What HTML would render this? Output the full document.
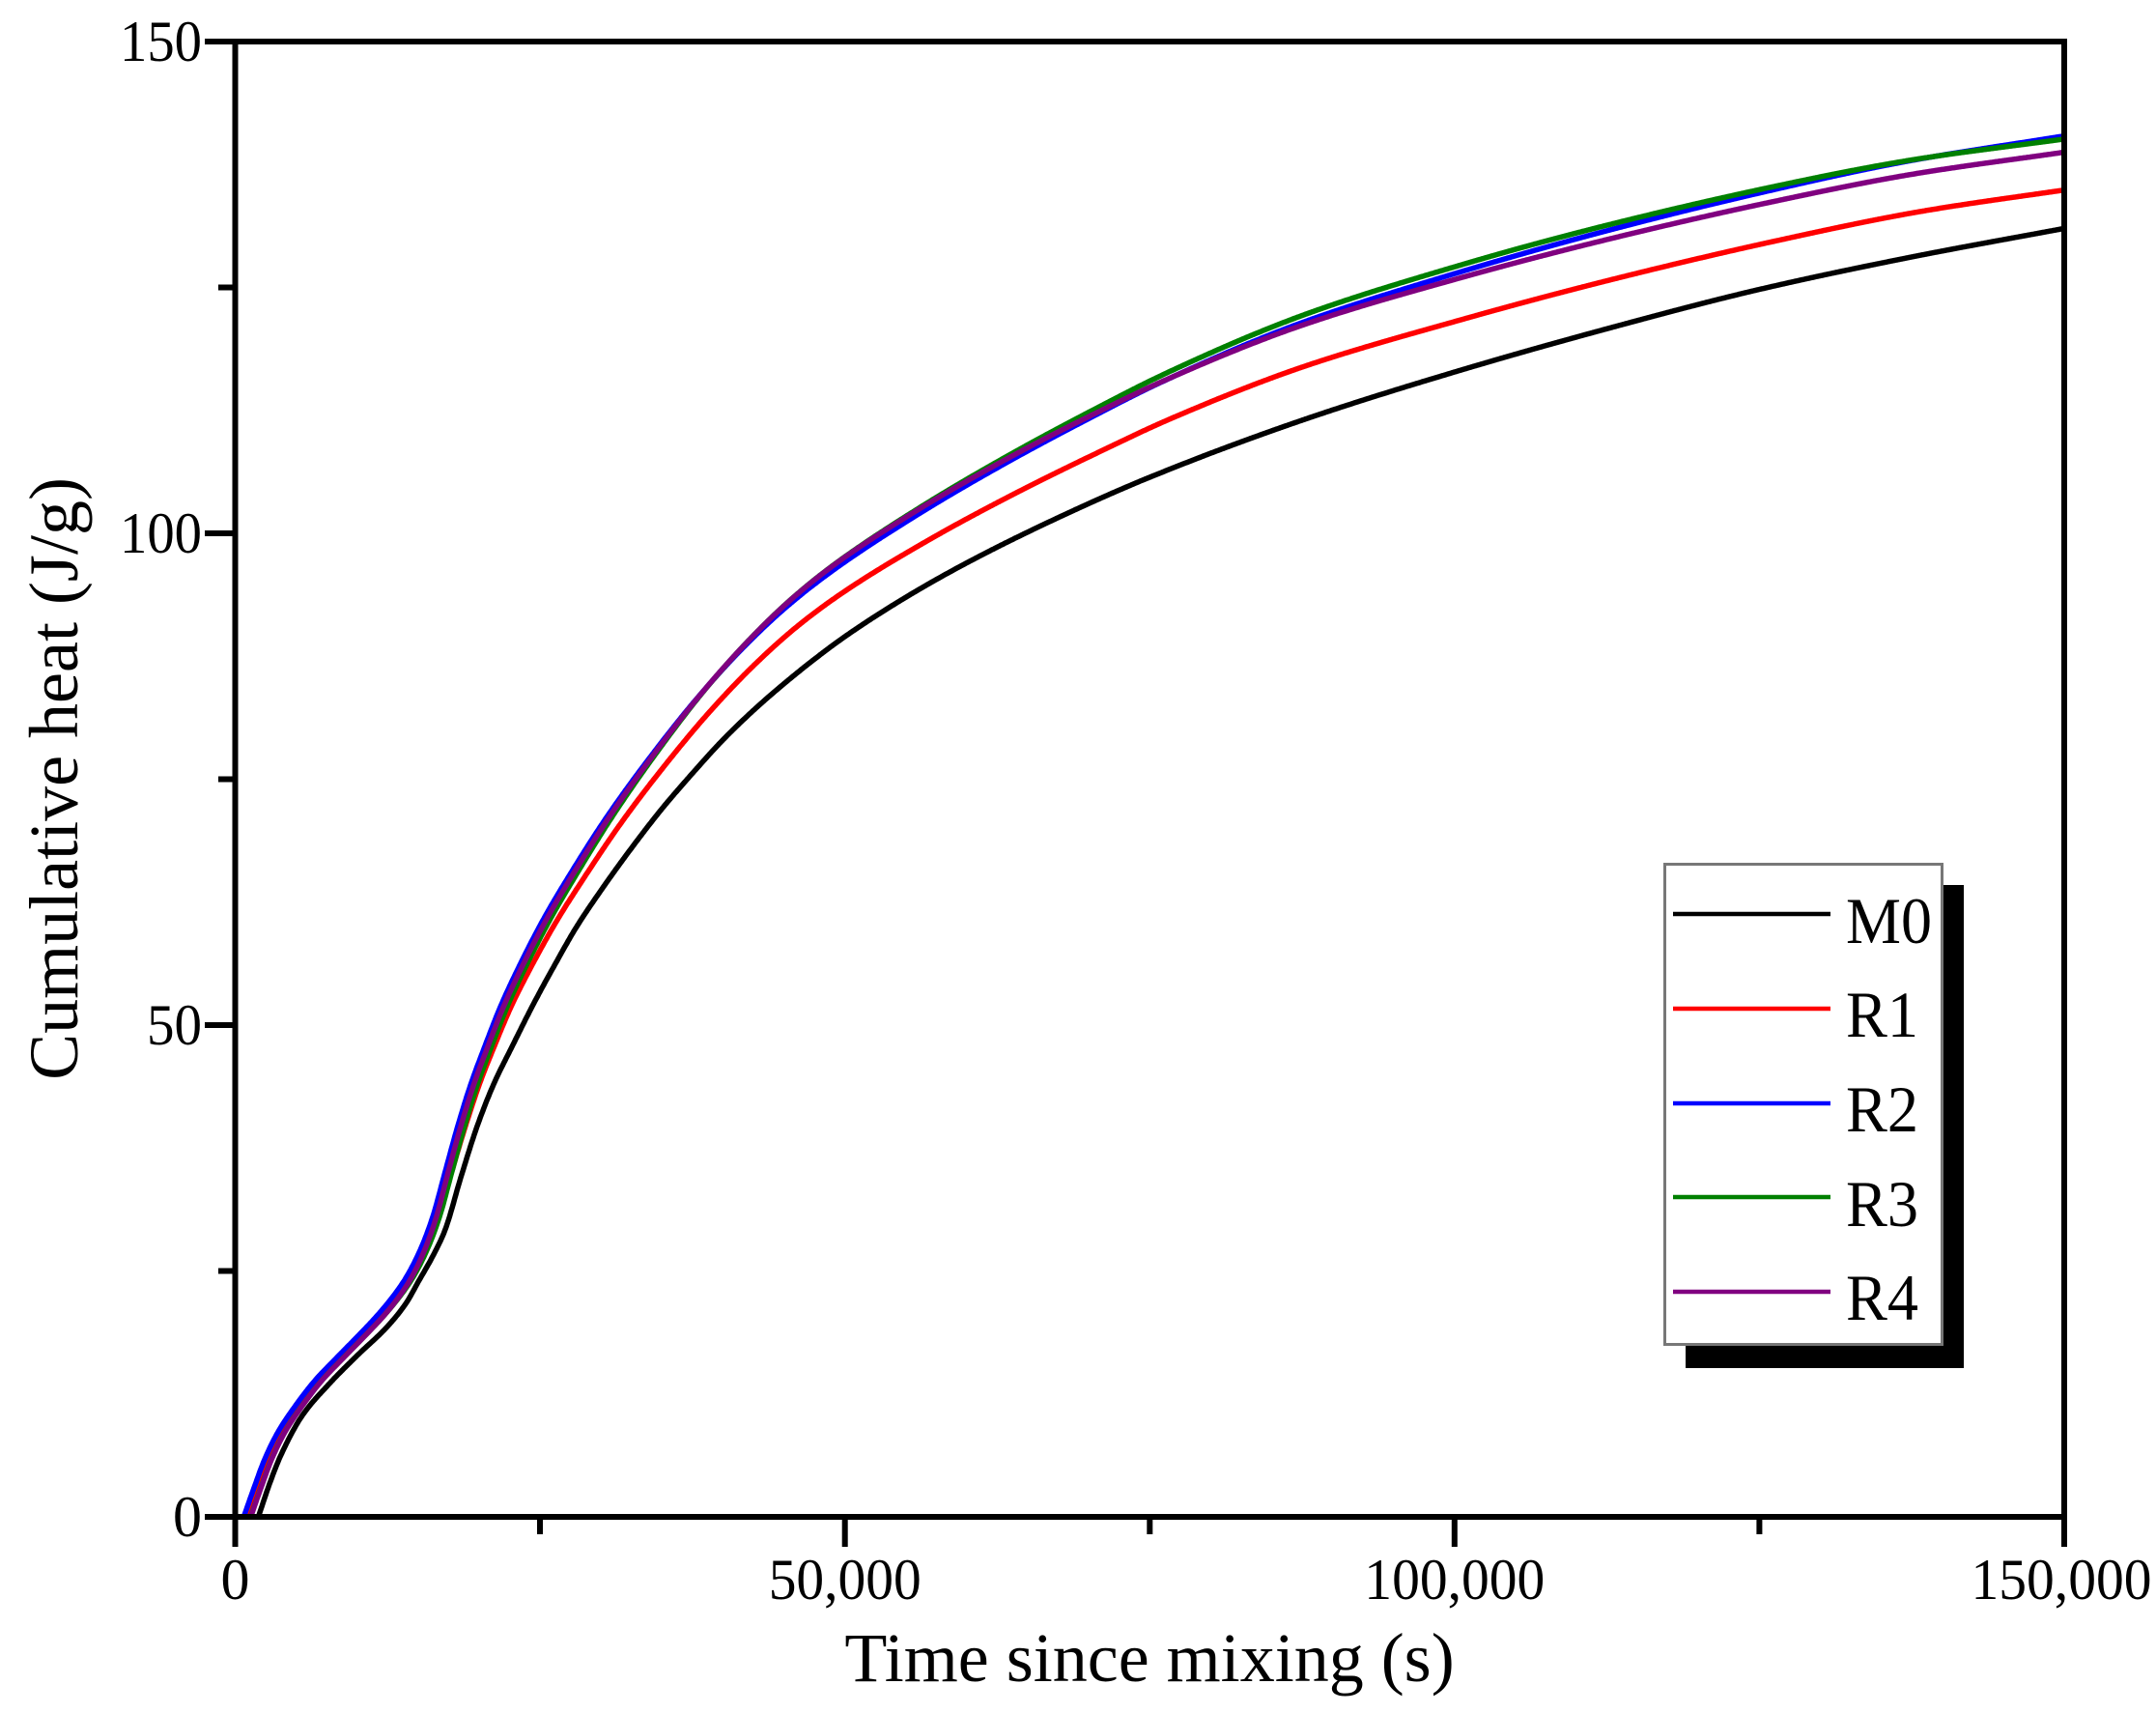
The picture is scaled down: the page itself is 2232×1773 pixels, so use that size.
<!DOCTYPE html>
<html><head><meta charset="utf-8">
<style>
html,body{margin:0;padding:0;background:#fff;}
svg{display:block;}
text{font-family:"Liberation Serif","Times New Roman",serif;fill:#000;}
</style></head>
<body>
<svg id="c" width="2232" height="1773" viewBox="0 0 2232 1773" xmlns="http://www.w3.org/2000/svg">
<rect width="2232" height="1773" fill="#fff"/>
<g id="curves" fill="none" stroke-width="5.5" stroke-linejoin="round" stroke-linecap="round"></g>
<g stroke="#000" stroke-width="6" fill="none" stroke-linecap="butt">
<rect x="243.5" y="43" width="1893.5" height="1527"/>
<path d="M212 43H243.5M212 552H243.5M212 1061H243.5M212 1570H243.5"/>
<path d="M226 297.5H243.5M226 806.5H243.5M226 1315.5H243.5"/>
<path d="M243.5 1570V1601M874.7 1570V1601M1505.8 1570V1601M2137 1570V1601"/>
<path d="M559 1570V1588M1190.3 1570V1588M1821.4 1570V1588"/>
</g>
<g font-size="60" text-anchor="end">
<text x="209" y="63" textLength="85" lengthAdjust="spacingAndGlyphs">150</text>
<text x="209" y="572" textLength="85" lengthAdjust="spacingAndGlyphs">100</text>
<text x="209" y="1081" textLength="57" lengthAdjust="spacingAndGlyphs">50</text>
<text x="209" y="1590">0</text>
</g>
<g font-size="60" text-anchor="middle">
<text x="243.5" y="1655">0</text>
<text x="874.7" y="1655" textLength="158" lengthAdjust="spacingAndGlyphs">50,000</text>
<text x="1505.8" y="1655" textLength="187" lengthAdjust="spacingAndGlyphs">100,000</text>
<text x="2134" y="1655" textLength="187" lengthAdjust="spacingAndGlyphs">150,000</text>
</g>
<text x="1190" y="1740" font-size="72" text-anchor="middle">Time since mixing (s)</text>
<text transform="translate(80,806) rotate(-90)" font-size="72" text-anchor="middle">Cumulative heat (J/g)</text>
<!-- legend -->
<rect x="1745" y="916" width="288" height="500" fill="#000"/>
<rect x="1723.5" y="894.5" width="287" height="497" fill="#fff" stroke="#777" stroke-width="3"/>
<g stroke-width="4.5">
<line x1="1732" y1="946" x2="1895" y2="946" stroke="#000"/>
<line x1="1732" y1="1044" x2="1895" y2="1044" stroke="#ff0000"/>
<line x1="1732" y1="1142" x2="1895" y2="1142" stroke="#0000ff"/>
<line x1="1732" y1="1239" x2="1895" y2="1239" stroke="#008000"/>
<line x1="1732" y1="1337" x2="1895" y2="1337" stroke="#800080"/>
</g>
<g font-size="68">
<text x="1911" y="976" textLength="89" lengthAdjust="spacingAndGlyphs">M0</text>
<text x="1911" y="1073" textLength="75" lengthAdjust="spacingAndGlyphs">R1</text>
<text x="1911" y="1171" textLength="75" lengthAdjust="spacingAndGlyphs">R2</text>
<text x="1911" y="1269" textLength="75" lengthAdjust="spacingAndGlyphs">R3</text>
<text x="1911" y="1366" textLength="75" lengthAdjust="spacingAndGlyphs">R4</text>
</g>
</svg>
<script>
function pchip(pts){
  var xs=pts.map(function(p){return p[0];}), ys=pts.map(function(p){return p[1];});
  var n=xs.length, h=[], d=[], m=new Array(n), i;
  for(i=0;i<n-1;i++){h[i]=xs[i+1]-xs[i]; d[i]=(ys[i+1]-ys[i])/h[i];}
  m[0]=d[0]; m[n-1]=d[n-2];
  for(i=1;i<n-1;i++){
    if(d[i-1]*d[i]<=0) m[i]=0;
    else { var w1=2*h[i]+h[i-1], w2=h[i]+2*h[i-1]; m[i]=(w1+w2)/(w1/d[i-1]+w2/d[i]); }
  }
  return function(x){
    if(x<=xs[0]) return ys[0]+(x-xs[0])*m[0];
    if(x>=xs[n-1]) return ys[n-1]+(x-xs[n-1])*m[n-1];
    var k=0; while(x>xs[k+1]) k++;
    var t=(x-xs[k])/h[k], t2=t*t, t3=t2*t;
    return (2*t3-3*t2+1)*ys[k]+(t3-2*t2+t)*h[k]*m[k]+(-2*t3+3*t2)*ys[k+1]+(t3-t2)*h[k]*m[k+1];
  };
}
var B=pchip([[700,0],[1500,2.8],[2400,5.8],[3500,8.6],[5000,11.4],[6500,13.8],[8500,16.4],[10000,18.3],[11600,20.4],[13000,22.5],[14000,24.3],[15200,27.2],[16200,30.5],[17200,35],[18200,39.5],[19300,43.9],[20400,47.6],[21800,52],[23300,56],[25300,60.8],[27400,65.2],[30500,71.2],[34500,78],[38000,83.4],[41600,88.3],[45000,92.3],[48650,95.9],[55700,101.7],[62840,106.9],[69900,111.6],[75830,115.3],[87000,121.2],[100000,126.4],[112000,130.6],[125000,134.6],[137000,137.8],[150000,140.4]]);
var K=pchip([[1900,0],[2800,3.3],[3720,6.2],[5500,10.3],[7690,13.5],[10000,16.4],[12440,19.3],[14000,21.7],[15060,24],[16200,26.5],[17190,29.1],[18500,34.5],[19810,39.6],[21200,44.0],[22740,47.9],[24400,52.0],[26150,56],[28000,60],[30000,63.7],[32500,68],[35000,72],[37500,75.6],[40000,79],[42500,82],[45000,84.7],[47500,87.2],[50000,89.5],[55000,93.5],[60000,97],[67500,101.6],[75000,105.7],[87500,111.5],[100000,116.4],[112500,120.8],[125000,124.8],[137500,128.1],[150000,131]]);
var curves=[
 {c:'#000000',F:K,t0:1900},
 {c:'#ff0000',D:[[0,250],[14000,300],[20000,700],[26000,950],[32000,1000],[150000,1000]],O:[[0,0],[20000,0],[30000,-0.8],[50000,-2.1],[75000,-3.5],[100000,-4.5],[150000,-5.3]]},
 {c:'#0000ff',D:[[0,0],[150000,0]],O:[[0,0],[150000,0]]},
 {c:'#008000',D:[[0,550],[150000,550]],O:[[0,0],[25000,0],[40000,0.8],[50000,1.0],[75000,1.0],[100000,0.9],[125000,0.5],[150000,-0.2]]},
 {c:'#800080',D:[[0,570],[12000,550],[18000,250],[150000,250]],O:[[0,0],[25000,0],[40000,0.4],[50000,0.7],[65000,0.5],[75000,0.2],[100000,-0.5],[125000,-1.1],[150000,-1.6]]}
];
var g=document.getElementById('curves');
function X(t){return 243.5+t*0.0126233;}
function Y(q){return 1570-q*10.18;}
curves.forEach(function(cv){
  var f, t;
  if(cv.F){ f=cv.F; t=cv.t0; }
  else {
    var fD=pchip(cv.D), fO=pchip(cv.O);
    f=function(tt){return B(tt-fD(tt))+fO(tt);};
    t=0; while(t-fD(t)<700) t+=10;
  }
  var s='M'+X(t).toFixed(1)+' '+Y(0).toFixed(1);
  var step=100;
  for(var tt=t+step; tt<150000; tt+=step){
    var q=f(tt); if(q<0)q=0;
    s+='L'+X(tt).toFixed(1)+' '+Y(q).toFixed(1);
  }
  s+='L'+X(150000).toFixed(1)+' '+Y(f(150000)).toFixed(1);
  var p=document.createElementNS('http://www.w3.org/2000/svg','path');
  p.setAttribute('d',s); p.setAttribute('stroke',cv.c);
  g.appendChild(p);
});
</script>
</body></html>
